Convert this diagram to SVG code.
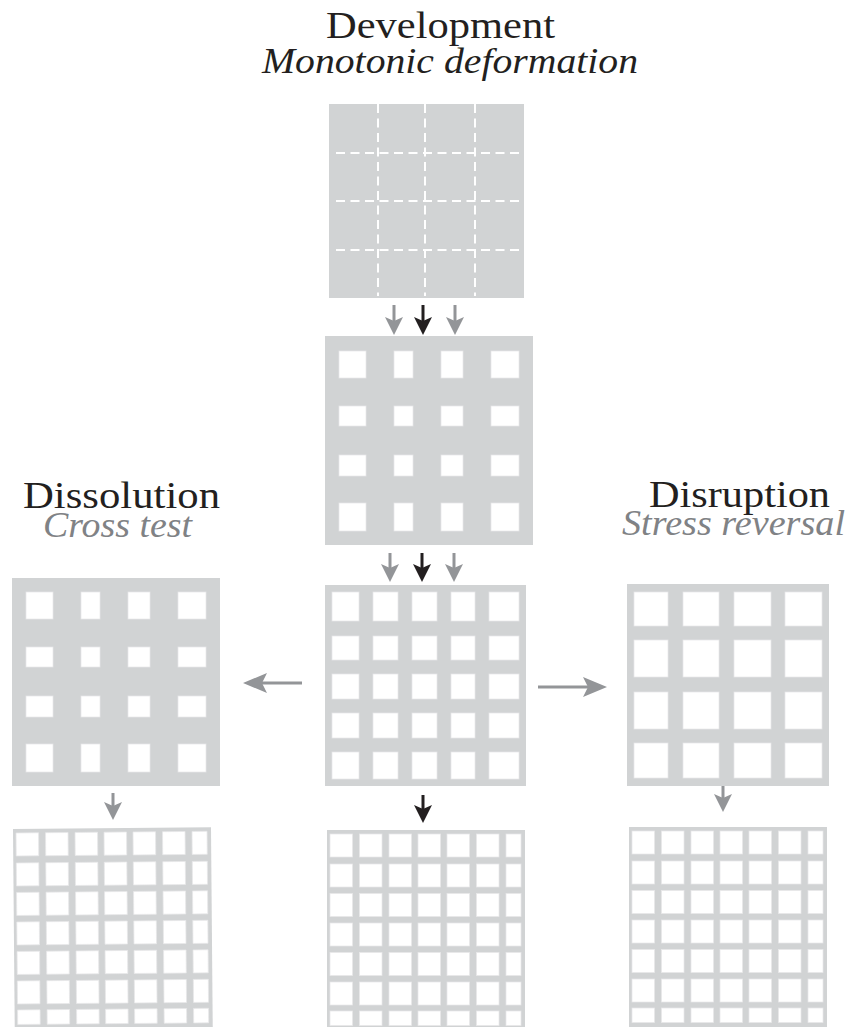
<svg xmlns="http://www.w3.org/2000/svg" width="847" height="1027" viewBox="0 0 847 1027">
<style>
.panel{fill:#d1d3d4}
.hole{fill:#fff;stroke:#e8e8e9;stroke-width:0.75}
.dash{stroke:#fff;stroke-width:2;stroke-dasharray:9 5.5;fill:none}
.title{font-family:"Liberation Serif","Times New Roman",serif;font-size:37px;fill:#231f20}
.sub{font-family:"Liberation Serif","Times New Roman",serif;font-style:italic;font-size:35px}
.dark{fill:#231f20}
.grey{fill:#808285}
.ag{stroke:#939598;stroke-width:3;fill:none}
.ab{stroke:#231f20;stroke-width:3;fill:none}
</style>
<defs>
<marker id="mg" viewBox="0 -10 20 20" refX="4" refY="0" markerWidth="20" markerHeight="20" markerUnits="userSpaceOnUse" orient="auto"><path d="M0,-9 L18,0 L0,9 L4,0 Z" fill="#939598"/></marker>
<marker id="mb" viewBox="0 -10 20 20" refX="4" refY="0" markerWidth="20" markerHeight="20" markerUnits="userSpaceOnUse" orient="auto"><path d="M0,-9 L18,0 L0,9 L4,0 Z" fill="#231f20"/></marker>
<marker id="mh" viewBox="0 -11 26 22" refX="5" refY="0" markerWidth="26" markerHeight="22" markerUnits="userSpaceOnUse" orient="auto"><path d="M0,-10 L24,0 L0,10 L5,0 Z" fill="#939598"/></marker>
<g id="h4">
<rect class="hole" x="14" y="15" width="27" height="27"/><rect class="hole" x="69" y="15" width="19" height="27"/><rect class="hole" x="116" y="15" width="22" height="27"/><rect class="hole" x="166" y="15" width="28" height="27"/>
<rect class="hole" x="14" y="70" width="27" height="20"/><rect class="hole" x="69" y="70" width="19" height="20"/><rect class="hole" x="116" y="70" width="22" height="20"/><rect class="hole" x="166" y="70" width="28" height="20"/>
<rect class="hole" x="14" y="119" width="27" height="21"/><rect class="hole" x="69" y="119" width="19" height="21"/><rect class="hole" x="116" y="119" width="22" height="21"/><rect class="hole" x="166" y="119" width="28" height="21"/>
<rect class="hole" x="14" y="167" width="27" height="28"/><rect class="hole" x="69" y="167" width="19" height="28"/><rect class="hole" x="116" y="167" width="22" height="28"/><rect class="hole" x="166" y="167" width="28" height="28"/>
</g>
<g id="r7">
<rect class="hole" x="3" y="0" width="22.5" height="23"/><rect class="hole" x="32.5" y="0" width="22.5" height="23"/><rect class="hole" x="62" y="0" width="22.5" height="23"/><rect class="hole" x="91" y="0" width="22.5" height="23"/><rect class="hole" x="120" y="0" width="22.5" height="23"/><rect class="hole" x="149.5" y="0" width="22.5" height="23"/><rect class="hole" x="179" y="0" width="15" height="23"/>
</g>
<g id="r7s">
<rect class="hole" x="3" y="0" width="22.5" height="14.5"/><rect class="hole" x="32.5" y="0" width="22.5" height="14.5"/><rect class="hole" x="62" y="0" width="22.5" height="14.5"/><rect class="hole" x="91" y="0" width="22.5" height="14.5"/><rect class="hole" x="120" y="0" width="22.5" height="14.5"/><rect class="hole" x="149.5" y="0" width="22.5" height="14.5"/><rect class="hole" x="179" y="0" width="15" height="14.5"/>
</g>
<g id="h7">
<use href="#r7" y="4"/><use href="#r7" y="34"/><use href="#r7" y="63.5"/><use href="#r7" y="93"/><use href="#r7" y="122.5"/><use href="#r7" y="152"/><use href="#r7s" y="181"/>
</g>
</defs>

<g id="label-development">
<text class="title" x="326" y="38" textLength="229" lengthAdjust="spacingAndGlyphs">Development</text>
<text class="sub dark" x="262" y="73" textLength="376" lengthAdjust="spacingAndGlyphs">Monotonic deformation</text>
</g>
<g id="label-dissolution">
<text class="title" x="23" y="508" textLength="197" lengthAdjust="spacingAndGlyphs">Dissolution</text>
<text class="sub grey" x="43" y="537" textLength="149" lengthAdjust="spacingAndGlyphs">Cross test</text>
</g>
<g id="label-disruption">
<text class="title" x="649" y="507" textLength="181" lengthAdjust="spacingAndGlyphs">Disruption</text>
<text class="sub grey" x="622" y="535" textLength="223" lengthAdjust="spacingAndGlyphs">Stress reversal</text>
</g>

<g id="node-initial">
<rect class="panel" x="329" y="104" width="195" height="194"/>
<path class="dash" d="M378,104 V296 M425,104 V296 M475,104 V296"/>
<path class="dash" d="M336,153 H524 M336,201 H524 M336,250 H524"/>
</g>

<g id="node-developed">
<rect class="panel" x="325" y="336" width="208" height="209"/>
<use href="#h4" x="325" y="336"/>
</g>

<g id="node-center">
<rect class="panel" x="325" y="585" width="201" height="201"/>
<g transform="translate(325,585)">
<rect class="hole" x="7" y="7" width="27" height="29"/><rect class="hole" x="48" y="7" width="25" height="29"/><rect class="hole" x="87" y="7" width="25" height="29"/><rect class="hole" x="126" y="7" width="24" height="29"/><rect class="hole" x="164" y="7" width="30" height="29"/>
<rect class="hole" x="7" y="51" width="27" height="24"/><rect class="hole" x="48" y="51" width="25" height="24"/><rect class="hole" x="87" y="51" width="25" height="24"/><rect class="hole" x="126" y="51" width="24" height="24"/><rect class="hole" x="164" y="51" width="30" height="24"/>
<rect class="hole" x="7" y="89" width="27" height="25"/><rect class="hole" x="48" y="89" width="25" height="25"/><rect class="hole" x="87" y="89" width="25" height="25"/><rect class="hole" x="126" y="89" width="24" height="25"/><rect class="hole" x="164" y="89" width="30" height="25"/>
<rect class="hole" x="7" y="128" width="27" height="25"/><rect class="hole" x="48" y="128" width="25" height="25"/><rect class="hole" x="87" y="128" width="25" height="25"/><rect class="hole" x="126" y="128" width="24" height="25"/><rect class="hole" x="164" y="128" width="30" height="25"/>
<rect class="hole" x="7" y="167" width="27" height="27"/><rect class="hole" x="48" y="167" width="25" height="27"/><rect class="hole" x="87" y="167" width="25" height="27"/><rect class="hole" x="126" y="167" width="24" height="27"/><rect class="hole" x="164" y="167" width="30" height="27"/>
</g>
</g>

<g id="node-dissolution">
<rect class="panel" x="12" y="578" width="208" height="208"/>
<use href="#h4" x="12" y="577"/>
</g>

<g id="node-disruption">
<rect class="panel" x="627" y="584" width="202" height="202"/>
<g transform="translate(627,584)">
<rect class="hole" x="7" y="8" width="34" height="34"/><rect class="hole" x="56" y="8" width="36" height="34"/><rect class="hole" x="107" y="8" width="37" height="34"/><rect class="hole" x="158" y="8" width="37" height="34"/>
<rect class="hole" x="7" y="56" width="34" height="37"/><rect class="hole" x="56" y="56" width="36" height="37"/><rect class="hole" x="107" y="56" width="37" height="37"/><rect class="hole" x="158" y="56" width="37" height="37"/>
<rect class="hole" x="7" y="108" width="34" height="37"/><rect class="hole" x="56" y="108" width="36" height="37"/><rect class="hole" x="107" y="108" width="37" height="37"/><rect class="hole" x="158" y="108" width="37" height="37"/>
<rect class="hole" x="7" y="159" width="34" height="35"/><rect class="hole" x="56" y="159" width="36" height="35"/><rect class="hole" x="107" y="159" width="37" height="35"/><rect class="hole" x="158" y="159" width="37" height="35"/>
</g>
</g>

<g id="node-bottom-left" transform="translate(13,829) rotate(-0.5)">
<rect class="panel" x="0" y="0" width="198" height="200"/>
<use href="#h7"/>
</g>

<g id="node-bottom-center" transform="translate(327,830)">
<rect class="panel" x="0" y="0" width="198" height="200"/>
<use href="#h7"/>
</g>

<g id="node-bottom-right" transform="translate(629,827)">
<rect class="panel" x="0" y="0" width="198" height="200"/>
<use href="#h7"/>
</g>

<g id="connectors">
<line class="ag" x1="394" y1="305" x2="394" y2="321" marker-end="url(#mg)"/>
<line class="ab" x1="423" y1="305" x2="423" y2="321" marker-end="url(#mb)"/>
<line class="ag" x1="455" y1="305" x2="455" y2="321" marker-end="url(#mg)"/>
<line class="ag" x1="390" y1="553" x2="390" y2="568" marker-end="url(#mg)"/>
<line class="ab" x1="422" y1="553" x2="422" y2="568" marker-end="url(#mb)"/>
<line class="ag" x1="454" y1="553" x2="454" y2="568" marker-end="url(#mg)"/>
<line class="ab" x1="423" y1="795" x2="423" y2="809" marker-end="url(#mb)"/>
<line class="ag" x1="113" y1="793" x2="113" y2="806" marker-end="url(#mg)"/>
<line class="ag" x1="723" y1="786" x2="723" y2="798" marker-end="url(#mg)"/>
<line class="ag" x1="302" y1="683" x2="262" y2="683" marker-end="url(#mh)"/>
<line class="ag" x1="538" y1="687" x2="588" y2="687" marker-end="url(#mh)"/>
</g>
</svg>
